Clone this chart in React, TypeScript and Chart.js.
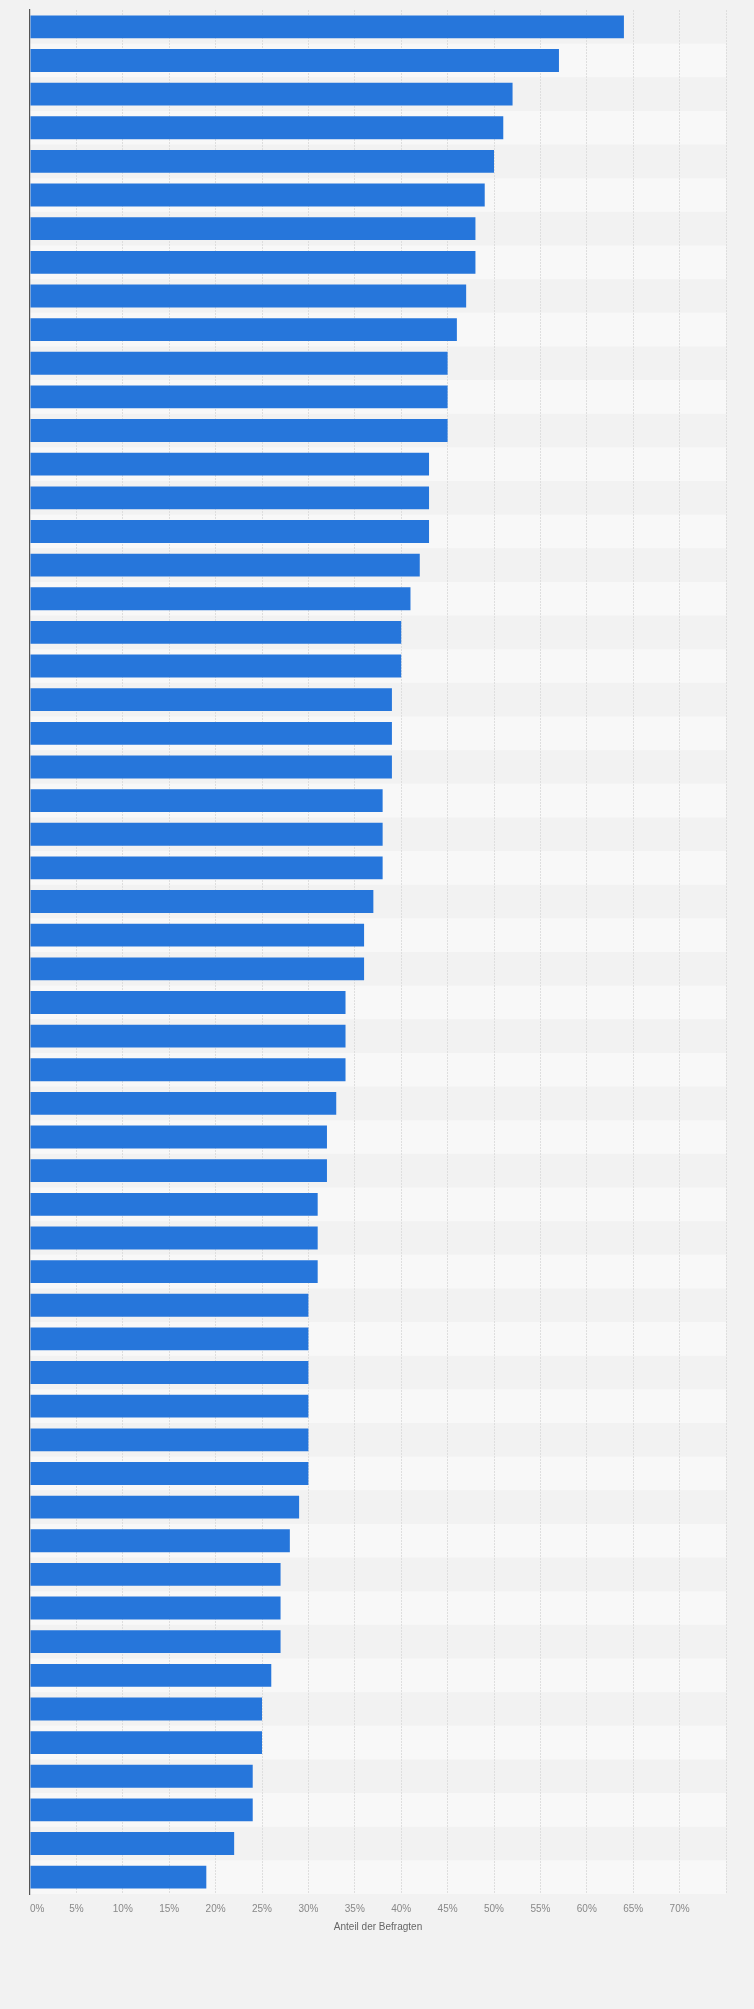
import { useEffect, useRef } from "react";
import { Chart, registerables } from "chart.js";

Chart.register(...registerables);

// share of respondents per answer, sorted descending (no category labels shown on the chart)
const values = [
  64, 57, 52, 51, 50, 49, 48, 48, 47, 46, 45, 45, 45, 43, 43, 43, 42, 41, 40, 40,
  39, 39, 39, 38, 38, 38, 37, 36, 36, 34, 34, 34, 33, 32, 32, 31, 31, 31, 30, 30,
  30, 30, 30, 30, 29, 28, 27, 27, 27, 26, 25, 25, 24, 24, 22, 19,
];
const categories = values.map((_, i) => `Antwort ${i + 1}`);
const tickLabels = [
  "0%", "5%", "10%", "15%", "20%", "25%", "30%", "35%",
  "40%", "45%", "50%", "55%", "60%", "65%", "70%",
];
const axisTitle = "Anteil der Befragten";

const FONT = "'Liberation Sans', Arial, Helvetica, sans-serif";
const BAR = "#2676db";
const BG = "#f2f2f2";
const STRIPE = "#f8f8f8";

// alternating row background behind the grid
const stripes = {
  id: "stripes",
  beforeDraw(chart: any) {
    const { ctx, chartArea, scales } = chart;
    const y = scales.y;
    const step = y.getPixelForValue(1) - y.getPixelForValue(0);
    ctx.save();
    ctx.fillStyle = STRIPE;
    for (let i = 1; i < categories.length; i += 2) {
      const c = y.getPixelForValue(i);
      ctx.fillRect(chartArea.left, c - step / 2, chartArea.right - chartArea.left, step);
    }
    ctx.restore();
  },
};

function BarChart() {
  const canvasRef = useRef<HTMLCanvasElement>(null);

  useEffect(() => {
    if (!canvasRef.current) return;
    const chart = new Chart(canvasRef.current, {
      type: "bar",
      data: {
        labels: categories,
        datasets: [
          {
            data: values,
            backgroundColor: BAR,
            borderWidth: 0,
            barPercentage: 0.68,
            categoryPercentage: 1,
          },
        ],
      },
      options: {
        indexAxis: "y",
        responsive: true,
        maintainAspectRatio: false,
        animation: false,
        layout: { padding: { left: 30, right: 28, top: 10, bottom: 76 } },
        plugins: { legend: { display: false }, tooltip: { enabled: false } },
        scales: {
          x: {
            min: 0,
            max: 75,
            ticks: {
              stepSize: 5,
              autoSkip: false,
              maxRotation: 0,
              align: "inner",
              padding: 9,
              color: "#888",
              font: { family: FONT, size: 10 },
              callback: (v: any) => tickLabels[Math.round(Number(v) / 5)] ?? "",
            },
            grid: {
              drawTicks: false,
              color: (c: any) => (c.tick && c.tick.value === 0 ? "rgba(0,0,0,0)" : "#dedede"),
              lineWidth: 1,
            },
            border: { display: false, dash: [2, 1] },
            title: {
              display: true,
              text: axisTitle,
              color: "#666",
              font: { family: FONT, size: 10 },
              padding: { top: -3, bottom: 0 },
            },
          },
          y: {
            ticks: { display: false },
            grid: { display: false, drawTicks: false },
            border: { display: true, color: "#555", width: 1.2 },
          },
        },
      },
      plugins: [stripes],
    });
    return () => chart.destroy();
  }, []);

  return (
    <div style={{ position: "relative", width: 754, height: 2009, background: BG }}>
      <canvas ref={canvasRef} />
    </div>
  );
}

export default function App() {
  useEffect(() => {
    document.body.style.margin = "0";
    document.body.style.background = BG;
  }, []);
  return <BarChart />;
}
